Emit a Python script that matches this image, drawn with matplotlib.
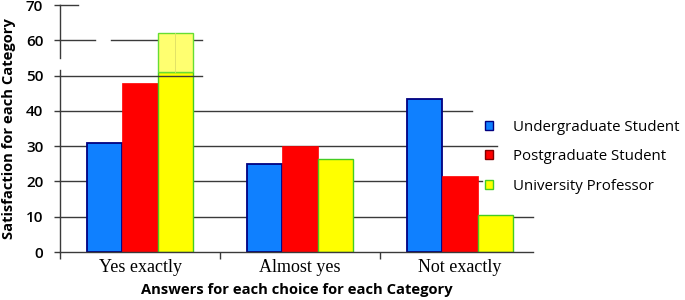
import matplotlib
matplotlib.use("Agg")
import matplotlib.pyplot as plt
from matplotlib.patches import Patch
import numpy as np

categories = ["Yes exactly", "Almost yes", "Not exactly"]
groups = ["Undergraduate Student", "Postgraduate Student", "University Professor"]
undergrad = [31, 25, 43.5]
postgrad = [48, 30, 21.5]
professor = [62, 26.5, 10.5]
yticks = [0, 10, 20, 30, 40, 50, 60, 70]

fig = plt.figure(figsize=(6.85, 3.0), dpi=100)
ax = fig.add_axes([0.0876, 0.16, 0.6905, 0.823])

x = np.arange(len(categories))
w = 0.22

# broken gridlines like in the picture (axes fraction extents)
grid_spans = {
    70: [(0, 0.038)],
    60: [(0, 0.074), (0.108, 0.300)],
    40: [(0, 0.871)],
    30: [(0, 0.924)],
    20: [(0, 0.892)],
    10: [(0, 1.0)],
}
tr = ax.get_yaxis_transform()
for yv, spans in grid_spans.items():
    for a, b in spans:
        ax.plot([a, b], [yv, yv], color="#3a3a3a", lw=1.0, transform=tr, zorder=1, clip_on=False)

ax.bar(x - w, undergrad, w, color="#0F80FF", edgecolor="#000080", linewidth=1.3, zorder=2)
ax.bar(x, postgrad, w, color="#FF0000", edgecolor="#FF0000", linewidth=0.5, zorder=2)

# yellow bars, the top of the first one is lighter
prof_low = [min(v, 51) for v in professor]
ax.bar(x + w, prof_low, w, color="#FFFF00", edgecolor="#44CC22", linewidth=1.0, zorder=2)
ax.bar(x[0] + w, professor[0] - 51, w, bottom=51, color="#FFFF70", edgecolor="#66DD33",
       linewidth=1.0, zorder=2)
ax.plot([x[0] + w, x[0] + w], [51, professor[0]], color="#DDDD66", lw=0.6, zorder=2.5)

ax.plot([0, 0.300], [50, 50], color="#3a3a3a", lw=1.0, transform=tr, zorder=3, clip_on=False)

ax.set_xlim(-0.5, 2.456)
ax.set_ylim(0, 70)
for s in ["top", "right", "left"]:
    ax.spines[s].set_visible(False)
ax.spines["bottom"].set_color("#3a3a3a")
ax.spines["bottom"].set_linewidth(1.0)

# left axis line with a gap
ax.plot([-0.5, -0.5], [0, 51.6], color="#3a3a3a", lw=1.0, clip_on=False, zorder=3)
ax.plot([-0.5, -0.5], [55, 70], color="#3a3a3a", lw=1.0, clip_on=False, zorder=3)

ax.set_yticks(yticks)
ax.set_yticklabels([str(t) for t in yticks], fontsize=11, fontfamily="Open Sans", fontweight="semibold")
ax.tick_params(axis="y", length=4, width=1.0, color="#3a3a3a", pad=8)

ax.set_xticks(x)
ax.set_xticklabels(categories, fontsize=13, fontfamily="Liberation Serif")
ax.set_xticks([-0.5, 0.5, 1.5], minor=True)
ax.tick_params(axis="x", which="major", length=0, pad=5)
ax.tick_params(axis="x", which="minor", length=5, width=1.0, color="#3a3a3a")

ax.set_xlabel("Answers for each choice for each Category", fontsize=10.6, fontweight="bold",
              fontfamily="Open Sans", labelpad=5)
ax.set_ylabel("Satisfaction for each Category", fontsize=10.6, fontweight="bold",
              fontfamily="Open Sans", labelpad=7)

handles = [
    Patch(facecolor="#0F80FF", edgecolor="#000080", linewidth=1.0),
    Patch(facecolor="#FF0000", edgecolor="#800000", linewidth=1.0),
    Patch(facecolor="#FFFF00", edgecolor="#44CC22", linewidth=1.0),
]
fig.legend(handles, groups, loc="upper left", bbox_to_anchor=(0.688, 0.645), frameon=False,
           prop={"family": "Open Sans", "size": 10.8}, handlelength=0.55, handleheight=0.55,
           labelspacing=0.95, handletextpad=1.3)

fig.savefig("out.png", dpi=100)
